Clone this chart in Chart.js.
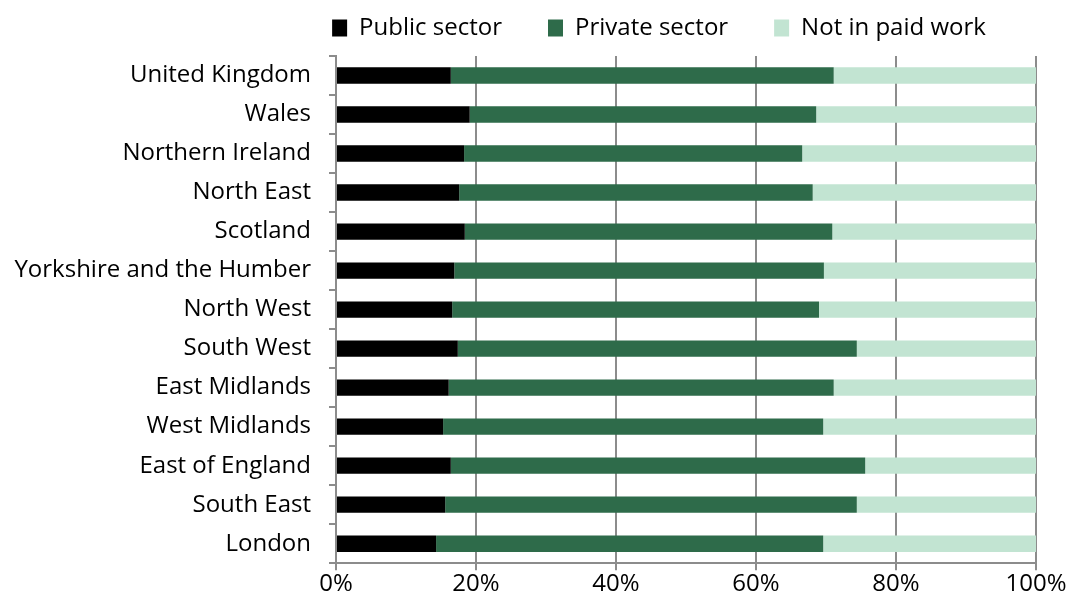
<!DOCTYPE html>
<html>
<head>
<meta charset="utf-8">
<script src="https://cdn.jsdelivr.net/npm/chart.js@4"></script>
<style>
  html, body { margin: 0; padding: 0; background: #fff; }
  #wrap { width: 1072px; height: 599px; }
</style>
</head>
<body>
<div id="wrap"><canvas id="chart"></canvas></div>
<script>
const regions = ['United Kingdom', 'Wales', 'Northern Ireland', 'North East', 'Scotland',
  'Yorkshire and the Humber', 'North West', 'South West', 'East Midlands', 'West Midlands',
  'East of England', 'South East', 'London'];
const publicSector  = [16.4, 19.1, 18.3, 17.6, 18.4, 16.9, 16.6, 17.4, 16.1, 15.3, 16.4, 15.6, 14.3];
const privateSector = [54.7, 49.5, 48.3, 50.5, 52.5, 52.8, 52.4, 57.0, 55.0, 54.3, 59.2, 58.8, 55.3];
const notInWork     = [28.9, 31.4, 33.4, 31.9, 29.1, 30.3, 31.0, 25.6, 28.9, 30.4, 24.4, 25.6, 30.4];
const xTicks = [0, 20, 40, 60, 80, 100];

const font = "'Open Sans', sans-serif";
Chart.defaults.font.family = font;
Chart.defaults.color = '#000';

// nudge the legend so it sits over the plot like the original
const legendShift = {
  id: 'legendShift',
  afterLayout(chart) {
    const lg = chart.legend;
    const dx = 659 - (lg.left + lg.right) / 2;
    lg.left += dx; lg.right += dx;
    lg.top -= 6; lg.bottom -= 6;
  }
};

const ctx = document.getElementById('chart').getContext('2d');
new Chart(ctx, {
  type: 'bar',
  data: {
    labels: regions,
    datasets: [
      { label: 'Public sector', data: publicSector, backgroundColor: '#000000' },
      { label: 'Private sector', data: privateSector, backgroundColor: '#2e6b4a' },
      { label: 'Not in paid work', data: notInWork, backgroundColor: '#c2e4d2' }
    ]
  },
  options: {
    indexAxis: 'y',
    responsive: true,
    maintainAspectRatio: false,
    animation: false,
    datasets: { bar: { categoryPercentage: 1, barPercentage: 0.42 } },
    layout: { padding: { top: -24, left: 0, right: 36, bottom: 0 } },
    plugins: {
      tooltip: { enabled: false },
      legend: {
        position: 'top',
        labels: {
          boxWidth: 15, boxHeight: 17, padding: 46,
          font: { size: 24 }
        }
      }
    },
    scales: {
      x: {
        stacked: true,
        min: 0, max: 100,
        afterBuildTicks: axis => { axis.ticks = xTicks.map(v => ({ value: v })); },
        ticks: { callback: v => v + '%', font: { size: 24 }, padding: 0, maxRotation: 0 },
        grid: { color: '#8c8c8c', lineWidth: 2, tickLength: 7 },
        border: { color: '#8c8c8c', width: 2 }
      },
      y: {
        stacked: true,
        afterFit: axis => { axis.width = 336; },
        ticks: { font: { size: 24 }, padding: 18, autoSkip: false },
        grid: { offset: true, drawOnChartArea: false, color: '#8c8c8c', lineWidth: 2, tickLength: 7 },
        border: { color: '#8c8c8c', width: 2 }
      }
    }
  },
  plugins: [legendShift]
});
</script>
</body>
</html>
